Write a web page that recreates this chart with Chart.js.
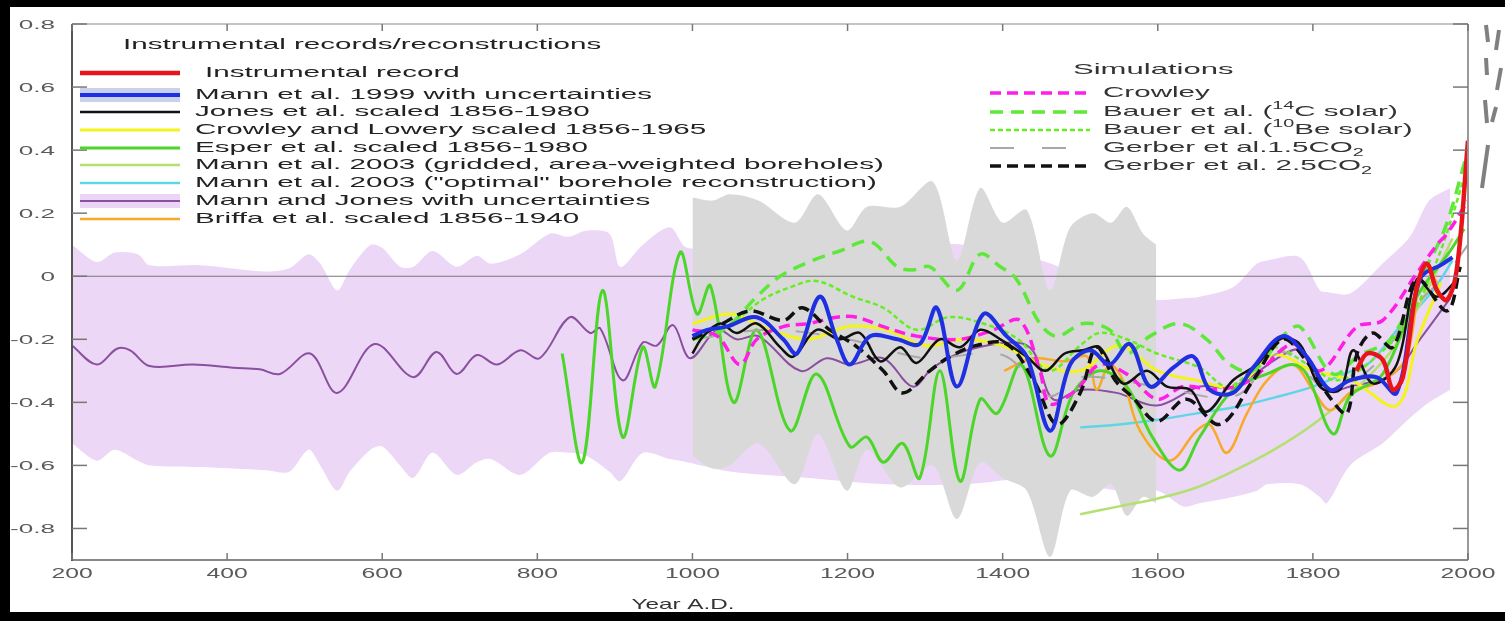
<!DOCTYPE html>
<html>
<head>
<meta charset="utf-8">
<script src="https://cdn.jsdelivr.net/npm/chart.js@4.4.1/dist/chart.umd.min.js"></script>
<style>
  html, body { margin: 0; padding: 0; background: #000; overflow: hidden; }
  canvas { display: block; }
</style>
</head>
<body>
<canvas id="chart" width="1505" height="621"></canvas>
<script>
// axis ticks
const xTicks = [200, 400, 600, 800, 1000, 1200, 1400, 1600, 1800, 2000];
const yTicks = [0.8, 0.6, 0.4, 0.2, 0, -0.2, -0.4, -0.6, -0.8];
const yTickLabels = ["0.8", "0.6", "0.4", "0.2", "0", "-0.2", "-0.4", "-0.6", "-0.8"];

// Instrumental record
const instYears = [1856, 1870, 1890, 1903, 1916, 1934, 1947, 1960, 1973, 1986, 2000];
const instVals = [-0.3, -0.245, -0.265, -0.36, -0.32, -0.035, 0.04, -0.045, -0.075, 0.03, 0.43];

// Mann et al. 1999
const mann99Years = [1000, 1019, 1044, 1083, 1117, 1135, 1164, 1186, 1203, 1229, 1264, 1293, 1315, 1341, 1375, 1405, 1431, 1461, 1487, 1513, 1538, 1564, 1590, 1620, 1646, 1667, 1697, 1723, 1761, 1792, 1822, 1848, 1882, 1908, 1938, 1968, 1980];
const mann99Vals = [-0.19, -0.17, -0.16, -0.13, -0.2, -0.245, -0.065, -0.2, -0.28, -0.19, -0.2, -0.215, -0.1, -0.35, -0.12, -0.19, -0.255, -0.49, -0.28, -0.235, -0.28, -0.215, -0.35, -0.29, -0.255, -0.36, -0.37, -0.29, -0.19, -0.255, -0.36, -0.33, -0.32, -0.37, -0.01, 0.04, 0.06];

// Mann et al. 1999 uncertainty (grey)
const mann99BandYears = [1000, 1026, 1048, 1085, 1132, 1162, 1199, 1225, 1268, 1310, 1341, 1371, 1400, 1431, 1461, 1487, 1516, 1540, 1560, 1581, 1598];
const mann99BandUpper = [0.25, 0.24, 0.26, 0.24, 0.17, 0.26, 0.145, 0.22, 0.22, 0.3, 0.05, 0.28, 0.17, 0.21, -0.045, 0.155, 0.2, 0.17, 0.22, 0.135, 0.1];
const mann99BandLower = [-0.57, -0.61, -0.6, -0.53, -0.66, -0.5, -0.68, -0.55, -0.67, -0.6, -0.77, -0.59, -0.64, -0.68, -0.89, -0.68, -0.7, -0.66, -0.76, -0.7, -0.72];

// Jones et al.
const jonesYears = [1000, 1014, 1036, 1057, 1083, 1113, 1130, 1160, 1190, 1216, 1242, 1268, 1289, 1319, 1345, 1371, 1397, 1431, 1455, 1480, 1504, 1525, 1555, 1586, 1612, 1642, 1663, 1697, 1728, 1757, 1783, 1809, 1835, 1852, 1877, 1908, 1934, 1960, 1986];
const jonesVals = [-0.245, -0.19, -0.15, -0.18, -0.15, -0.225, -0.255, -0.17, -0.2, -0.18, -0.27, -0.225, -0.275, -0.2, -0.225, -0.17, -0.2, -0.255, -0.3, -0.245, -0.235, -0.225, -0.34, -0.3, -0.35, -0.36, -0.43, -0.33, -0.28, -0.2, -0.215, -0.35, -0.36, -0.235, -0.34, -0.28, -0.01, -0.065, -0.01];

// Crowley and Lowery
const clYears = [1000, 1050, 1100, 1150, 1200, 1250, 1300, 1350, 1400, 1450, 1500, 1550, 1600, 1650, 1700, 1750, 1800, 1850, 1908, 1935, 1965];
const clVals = [-0.15, -0.12, -0.17, -0.2, -0.16, -0.17, -0.22, -0.2, -0.22, -0.28, -0.3, -0.22, -0.3, -0.33, -0.35, -0.25, -0.3, -0.33, -0.41, -0.2, -0.02];

// Esper et al.
const esperYears = [832, 858, 884, 910, 936, 952, 984, 1006, 1023, 1053, 1083, 1126, 1160, 1203, 1225, 1246, 1271, 1293, 1319, 1345, 1371, 1393, 1424, 1461, 1491, 1525, 1560, 1593, 1628, 1654, 1697, 1741, 1774, 1792, 1826, 1848, 1890, 1934, 1977, 1995];
const esperVals = [-0.245, -0.59, -0.045, -0.51, -0.225, -0.35, 0.075, -0.12, -0.03, -0.4, -0.17, -0.49, -0.31, -0.54, -0.51, -0.59, -0.53, -0.64, -0.3, -0.65, -0.39, -0.435, -0.28, -0.57, -0.37, -0.3, -0.35, -0.51, -0.615, -0.51, -0.36, -0.31, -0.28, -0.31, -0.5, -0.38, -0.31, -0.065, 0.08, 0.15];

// Mann et al. 2003 gridded boreholes
const gridYears = [1500, 1550, 1600, 1650, 1700, 1750, 1800, 1850, 1900, 1940, 1980];
const gridVals = [-0.755, -0.73, -0.705, -0.67, -0.615, -0.55, -0.47, -0.37, -0.24, -0.08, 0.12];

// Mann et al. 2003 "optimal" borehole
const optYears = [1500, 1550, 1600, 1650, 1700, 1750, 1800, 1850, 1875, 1912, 1955, 1980];
const optVals = [-0.48, -0.47, -0.455, -0.435, -0.415, -0.385, -0.35, -0.3, -0.27, -0.16, -0.045, 0.05];

// Mann and Jones
const mjYears = [200, 232, 258, 275, 300, 356, 408, 442, 468, 507, 542, 590, 640, 670, 696, 722, 748, 778, 803, 842, 868, 881, 910, 936, 954, 975, 997, 1032, 1057, 1085, 1139, 1173, 1203, 1246, 1284, 1310, 1354, 1418, 1440, 1465, 1500, 1547, 1599, 1654, 1697, 1761, 1783, 1818, 1848, 1903, 1938, 1977];
const mjVals = [-0.22, -0.28, -0.23, -0.235, -0.285, -0.28, -0.29, -0.295, -0.31, -0.245, -0.37, -0.215, -0.32, -0.24, -0.31, -0.25, -0.28, -0.235, -0.26, -0.13, -0.18, -0.165, -0.33, -0.21, -0.22, -0.155, -0.26, -0.17, -0.2, -0.19, -0.3, -0.26, -0.28, -0.26, -0.35, -0.29, -0.235, -0.21, -0.24, -0.39, -0.36, -0.37, -0.41, -0.35, -0.35, -0.25, -0.235, -0.36, -0.35, -0.31, -0.2, -0.07];

// Mann and Jones uncertainty (lavender)
const mjBandYears = [200, 232, 255, 285, 300, 365, 450, 480, 505, 520, 542, 558, 585, 600, 623, 640, 665, 696, 722, 740, 778, 816, 840, 864, 893, 907, 936, 971, 993, 1050, 1150, 1250, 1350, 1450, 1550, 1600, 1633, 1654, 1697, 1728, 1741, 1783, 1809, 1818, 1848, 1890, 1925, 1950, 1977];
const mjBandUpper = [0.1, 0.045, 0.075, 0.07, 0.035, 0.035, 0.015, 0.025, 0.07, 0.04, -0.045, 0.02, 0.1, 0.09, 0.03, 0.03, 0.08, 0.03, 0.065, 0.04, 0.07, 0.135, 0.125, 0.145, 0.135, 0.03, 0.1, 0.155, 0.09, 0.1, 0.12, 0.1, 0.1, 0.05, -0.05, -0.075, -0.07, -0.065, -0.035, 0.04, 0.05, 0.06, -0.045, -0.05, -0.055, 0.04, 0.125, 0.24, 0.28];
const mjBandLower = [-0.53, -0.585, -0.55, -0.585, -0.6, -0.605, -0.615, -0.62, -0.55, -0.6, -0.68, -0.62, -0.55, -0.54, -0.6, -0.64, -0.56, -0.63, -0.59, -0.58, -0.63, -0.56, -0.56, -0.57, -0.62, -0.65, -0.56, -0.58, -0.59, -0.62, -0.64, -0.66, -0.66, -0.64, -0.68, -0.68, -0.73, -0.72, -0.7, -0.68, -0.66, -0.66, -0.7, -0.72, -0.6, -0.53, -0.45, -0.4, -0.36];

// Briffa et al.
const briffaYears = [1402, 1439, 1480, 1509, 1521, 1538, 1555, 1577, 1615, 1650, 1667, 1689, 1715, 1741, 1774, 1800, 1822, 1848, 1890, 1921, 1942, 1960];
const briffaVals = [-0.3, -0.26, -0.27, -0.255, -0.36, -0.28, -0.33, -0.49, -0.585, -0.49, -0.47, -0.56, -0.435, -0.33, -0.28, -0.36, -0.425, -0.37, -0.33, -0.255, 0.04, -0.02];

// Simulations
const crowleyYears = [1000, 1032, 1061, 1083, 1117, 1150, 1186, 1212, 1246, 1289, 1345, 1388, 1422, 1448, 1461, 1495, 1525, 1560, 1599, 1633, 1676, 1719, 1774, 1809, 1857, 1890, 1934, 1960, 1973, 2000];
const crowleyVals = [-0.17, -0.19, -0.28, -0.2, -0.16, -0.15, -0.13, -0.13, -0.16, -0.19, -0.2, -0.17, -0.14, -0.3, -0.405, -0.36, -0.28, -0.31, -0.39, -0.35, -0.36, -0.33, -0.215, -0.3, -0.16, -0.14, 0.01, 0.1, 0.135, 0.24];

const bauerCYears = [1000, 1040, 1083, 1113, 1155, 1190, 1229, 1264, 1284, 1306, 1341, 1371, 1397, 1418, 1448, 1470, 1504, 1538, 1560, 1590, 1628, 1663, 1693, 1723, 1761, 1783, 1826, 1860, 1900, 1940, 1970, 2000];
const bauerCVals = [-0.2, -0.17, -0.065, 0.0, 0.05, 0.08, 0.11, 0.03, 0.02, 0.03, -0.045, 0.07, 0.03, -0.01, -0.15, -0.19, -0.15, -0.17, -0.245, -0.19, -0.15, -0.2, -0.28, -0.3, -0.19, -0.16, -0.31, -0.25, -0.2, 0.0, 0.15, 0.4];

const bauerBeYears = [1000, 1050, 1090, 1126, 1160, 1207, 1246, 1289, 1330, 1375, 1420, 1460, 1500, 1525, 1560, 1599, 1654, 1689, 1720, 1748, 1800, 1830, 1870, 1920, 1960, 2000];
const bauerBeVals = [-0.2, -0.15, -0.075, -0.035, -0.015, -0.065, -0.1, -0.17, -0.13, -0.15, -0.2, -0.3, -0.22, -0.18, -0.2, -0.245, -0.29, -0.35, -0.3, -0.225, -0.29, -0.33, -0.28, -0.15, 0.05, 0.35];

const gerber15Years = [1000, 1100, 1200, 1300, 1400, 1460, 1500, 1600, 1700, 1760, 1820, 1880, 1930, 1970, 2000];
const gerber15Vals = [-0.2, -0.17, -0.2, -0.26, -0.25, -0.38, -0.32, -0.35, -0.38, -0.24, -0.36, -0.28, -0.1, 0.0, 0.1];

const gerber25Years = [1000, 1039, 1074, 1117, 1142, 1177, 1210, 1246, 1271, 1306, 1332, 1365, 1405, 1440, 1470, 1500, 1521, 1545, 1568, 1599, 1637, 1680, 1723, 1761, 1792, 1822, 1844, 1857, 1877, 1903, 1934, 1973, 1990];
const gerber25Vals = [-0.2, -0.15, -0.11, -0.14, -0.1, -0.17, -0.22, -0.3, -0.37, -0.3, -0.255, -0.22, -0.215, -0.33, -0.47, -0.37, -0.225, -0.33, -0.385, -0.46, -0.39, -0.47, -0.33, -0.2, -0.27, -0.385, -0.435, -0.245, -0.18, -0.225, -0.01, -0.11, 0.03];

const leftLegend = [
  "Instrumental record",
  "Mann et al. 1999 with uncertainties",
  "Jones et al. scaled 1856-1980",
  "Crowley and Lowery scaled 1856-1965",
  "Esper et al. scaled 1856-1980",
  "Mann et al. 2003 (gridded, area-weighted boreholes)",
  "Mann et al. 2003 (\"optimal\" borehole reconstruction)",
  "Mann and Jones with uncertainties",
  "Briffa et al. scaled 1856-1940"
];
const rightLegend = [
  "Crowley",
  "Bauer et al. (¹⁴C solar)",
  "Bauer et al. (¹⁰Be solar)",
  "Gerber et al.1.5CO₂",
  "Gerber et al. 2.5CO₂"
];

const FONT = '"Liberation Sans", Arial, sans-serif';

function pts(xs, ys) {
  return xs.map((x, i) => ({ x: x, y: ys[i] }));
}

function line(label, xs, ys, color, width, dash, extra) {
  return Object.assign({
    label: label,
    data: pts(xs, ys),
    borderColor: color,
    borderWidth: width,
    borderDash: dash || [],
    pointRadius: 0,
    tension: 0.35,
    fill: false
  }, extra || {});
}

function band(xs, ys, color, fillNext) {
  return {
    label: "",
    data: pts(xs, ys),
    borderColor: "transparent",
    borderWidth: 1,
    backgroundColor: color,
    pointRadius: 0,
    tension: 0.3,
    fill: fillNext ? "+1" : false
  };
}

// first dataset is drawn on top
const datasets = [
  line(leftLegend[0], instYears, instVals, "#e8141b", 4.5),
  line(leftLegend[1], mann99Years, mann99Vals, "#1e30e0", 4, null, { legendBand: "#c8d2ec" }),
  line(rightLegend[4], gerber25Years, gerber25Vals, "#111111", 3.5, [11, 6]),
  line(leftLegend[2], jonesYears, jonesVals, "#111111", 2.5),
  line(rightLegend[0], crowleyYears, crowleyVals, "#ff1ee6", 3.5, [11, 6]),
  line(rightLegend[1], bauerCYears, bauerCVals, "#5ee83a", 3.5, [13, 8]),
  line(rightLegend[2], bauerBeYears, bauerBeVals, "#66ee22", 2.5, [5, 3]),
  line(rightLegend[3], gerber15Years, gerber15Vals, "#a8a8a8", 2, [24, 28]),
  line(leftLegend[4], esperYears, esperVals, "#4cd62a", 3),
  line(leftLegend[3], clYears, clVals, "#f3f31e", 3),
  line(leftLegend[8], briffaYears, briffaVals, "#f7a928", 2.5),
  line(leftLegend[5], gridYears, gridVals, "#b3e070", 2.5),
  line(leftLegend[6], optYears, optVals, "#5fd6e4", 2.5),
  line(leftLegend[7], mjYears, mjVals, "#8a4f9e", 2, null, { legendBand: "#ead5f6" }),
  line("", [200, 2000], [0, 0], "#777777", 1.2, null, { tension: 0 }),
  band(mann99BandYears, mann99BandUpper, "#d9d9d9", true),
  band(mann99BandYears, mann99BandLower, "#d9d9d9", false),
  band(mjBandYears, mjBandUpper, "#ecd8f6", true),
  band(mjBandYears, mjBandLower, "#ecd8f6", false)
];

const SUP = { "¹": "1", "⁴": "4", "⁰": "0" };
const SUB = { "₂": "2" };

function segments(text) {
  const out = [];
  for (const ch of text) {
    const kind = SUP[ch] ? "sup" : SUB[ch] ? "sub" : "n";
    const c = SUP[ch] || SUB[ch] || ch;
    const last = out[out.length - 1];
    if (last && last.kind === kind) last.t += c;
    else out.push({ kind: kind, t: c });
  }
  return out;
}

// text stretched horizontally by sx, like the squeezed original
function drawText(ctx, text, x, y, size, sx, align, color) {
  const segs = segments(text);
  const fontFor = k => (k === "n" ? size : Math.round(size * 0.68)) + "px " + FONT;
  let w = 0;
  segs.forEach(s => { ctx.font = fontFor(s.kind); s.w = ctx.measureText(s.t).width; w += s.w; });
  let cx = align === "right" ? x - w * sx : align === "center" ? x - w * sx / 2 : x;
  ctx.save();
  ctx.fillStyle = color;
  ctx.textBaseline = "middle";
  ctx.textAlign = "left";
  segs.forEach(s => {
    ctx.font = fontFor(s.kind);
    const dy = s.kind === "sup" ? -size * 0.4 : s.kind === "sub" ? size * 0.32 : 0;
    ctx.save();
    ctx.translate(cx, y + dy);
    ctx.scale(sx, 1);
    ctx.fillText(s.t, 0, 0);
    ctx.restore();
    cx += s.w * sx;
  });
  ctx.restore();
}

function fitScale(ctx, text, size, target) {
  ctx.font = size + "px " + FONT;
  return target / ctx.measureText(text).width;
}

function sample(ctx, ds, x0, x1, y) {
  if (ds.legendBand) {
    ctx.fillStyle = ds.legendBand;
    ctx.fillRect(x0, y - 7, x1 - x0, 14);
  }
  ctx.save();
  ctx.strokeStyle = ds.borderColor;
  ctx.lineWidth = ds.borderWidth;
  ctx.setLineDash(ds.borderDash || []);
  ctx.beginPath();
  ctx.moveTo(x0, y);
  ctx.lineTo(x1, y);
  ctx.stroke();
  ctx.restore();
}

const framePlugin = {
  id: "frame",
  beforeDraw(chart) {
    const ctx = chart.ctx;
    ctx.save();
    ctx.fillStyle = "#000";
    ctx.fillRect(0, 0, chart.width, chart.height);
    ctx.fillStyle = "#fff";
    ctx.fillRect(10, 7, chart.width - 10, 605);
    ctx.restore();
  },
  afterDatasetsDraw(chart) {
    const ctx = chart.ctx;
    const a = chart.chartArea;
    const xs = chart.scales.x, ys = chart.scales.y;
    ctx.save();

    // frame
    ctx.lineWidth = 1.5;
    ctx.strokeStyle = "#b0b0b0";
    ctx.beginPath(); ctx.moveTo(a.left, a.top); ctx.lineTo(a.right, a.top); ctx.stroke();
    ctx.lineWidth = 2;
    ctx.strokeStyle = "#999";
    ctx.beginPath(); ctx.moveTo(a.right, a.top); ctx.lineTo(a.right, a.bottom); ctx.stroke();
    ctx.strokeStyle = "#888";
    ctx.beginPath(); ctx.moveTo(a.left, a.bottom); ctx.lineTo(a.right, a.bottom); ctx.stroke();
    ctx.strokeStyle = "#555";
    ctx.beginPath(); ctx.moveTo(a.left, a.top); ctx.lineTo(a.left, a.bottom + 1); ctx.stroke();

    // inward ticks
    ctx.lineWidth = 1.5;
    ctx.strokeStyle = "#777";
    yTicks.forEach(v => {
      const py = ys.getPixelForValue(v);
      ctx.beginPath(); ctx.moveTo(a.left, py); ctx.lineTo(a.left + 15, py); ctx.stroke();
      ctx.beginPath(); ctx.moveTo(a.right - 15, py); ctx.lineTo(a.right, py); ctx.stroke();
    });
    xTicks.forEach(v => {
      const px = xs.getPixelForValue(v);
      ctx.beginPath(); ctx.moveTo(px, a.top); ctx.lineTo(px, a.top + 7); ctx.stroke();
      ctx.beginPath(); ctx.moveTo(px, a.bottom - 7); ctx.lineTo(px, a.bottom); ctx.stroke();
    });

    // tick labels
    const sy = fitScale(ctx, "-0.2", 13, 45);
    yTicks.forEach((v, i) => {
      drawText(ctx, yTickLabels[i], 55, ys.getPixelForValue(v) + 1, 13, sy, "right", "#5a5a5a");
    });
    const sxl = fitScale(ctx, "2000", 14, 55);
    xTicks.forEach(v => {
      drawText(ctx, String(v), xs.getPixelForValue(v), 574, 14, sxl, "center", "#5a5a5a");
    });
    const st = fitScale(ctx, "Year A.D.", 15, 103);
    drawText(ctx, "Year A.D.", 683, 605, 15, st, "center", "#333");

    // legend
    const byLabel = {};
    chart.data.datasets.forEach(d => { if (d.label) byLabel[d.label] = d; });
    const sl = fitScale(ctx, leftLegend[1], 15, 457);
    drawText(ctx, "Instrumental records/reconstructions", 123, 45, 15, sl, "left", "#222");
    const leftY = [73, 95, 112, 130, 148, 165, 183, 201, 219];
    leftLegend.forEach((lab, i) => {
      sample(ctx, byLabel[lab], 80, 180, leftY[i]);
      drawText(ctx, lab, i === 0 ? 205 : 195, leftY[i], 15, sl, "left", "#222");
    });
    drawText(ctx, "Simulations", 1073, 70, 15, sl * 1.05, "left", "#333");
    const rightY = [93, 112, 130, 148, 166];
    rightLegend.forEach((lab, i) => {
      sample(ctx, byLabel[lab], 990, 1090, rightY[i]);
      drawText(ctx, lab, 1103, rightY[i], 15, sl, "left", "#333");
    });

    // stray marks at the right edge of the picture
    ctx.strokeStyle = "#808080";
    ctx.lineWidth = 4;
    ctx.setLineDash([]);
    [[1486, 25, 1488, 42], [1499, 30, 1496, 50], [1486, 58, 1487, 75], [1501, 68, 1497, 90],
     [1485, 100, 1487, 123], [1496, 107, 1492, 122], [1488, 145, 1482, 188]].forEach(s => {
      ctx.beginPath(); ctx.moveTo(s[0], s[1]); ctx.lineTo(s[2], s[3]); ctx.stroke();
    });
    ctx.restore();
  }
};

new Chart(document.getElementById("chart"), {
  type: "line",
  data: { datasets: datasets },
  options: {
    responsive: false,
    animation: false,
    devicePixelRatio: 1,
    parsing: true,
    layout: { padding: { left: 72, right: 37, top: 24, bottom: 61 } },
    scales: {
      x: { type: "linear", min: 200, max: 2000, display: false },
      y: { type: "linear", min: -0.9, max: 0.8, display: false }
    },
    plugins: {
      legend: { display: false },
      tooltip: { enabled: false }
    }
  },
  plugins: [framePlugin]
});
</script>
</body>
</html>
